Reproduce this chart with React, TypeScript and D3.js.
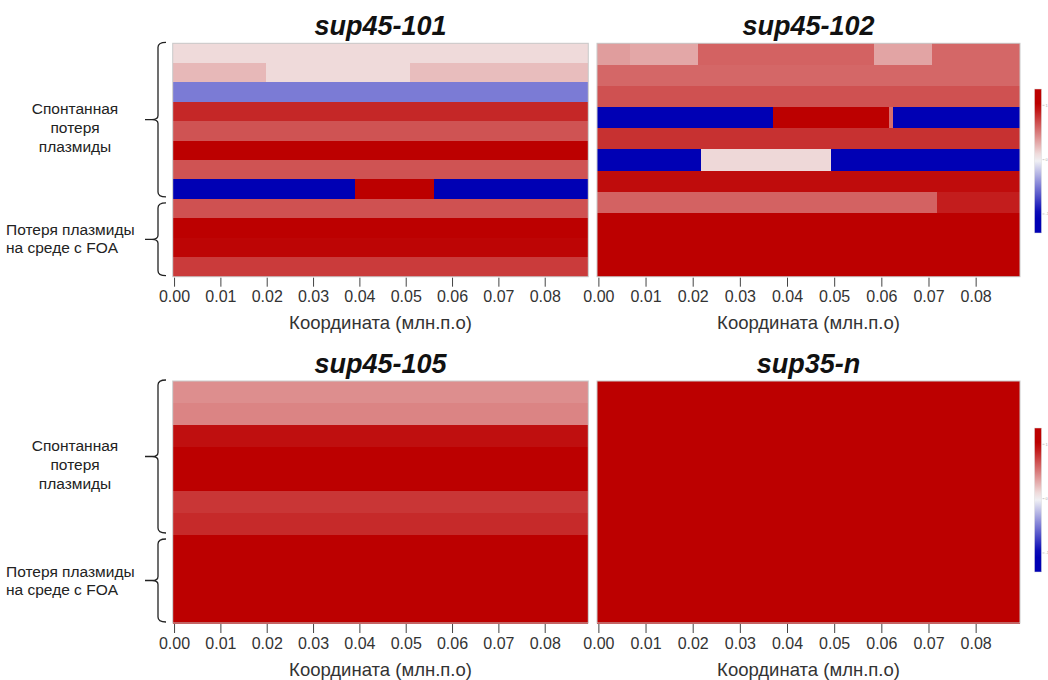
import React from "react";
import * as d3 from "d3";

// ---------- data ----------
const xTicks = [0, 0.01, 0.02, 0.03, 0.04, 0.05, 0.06, 0.07, 0.08];
const xDomain = [-0.0004, 0.0893];
const axisTitle = "Координата (млн.п.о)";
const groupLabelSpont = ["Спонтанная", "потеря", "плазмиды"];
const groupLabelFoa = ["Потеря плазмиды", "на среде с FOA"];
const legendTicks = [1, 0, -1];

// each row: b = breakpoints (genomic coord), v = values for segments
const rows101 = [
  { b: [], v: [0.11] },
  { b: [0.0197, 0.0508], v: [0.25, 0.11, 0.23] },
  { b: [], v: [-0.5] },
  { b: [], v: [0.84] },
  { b: [], v: [0.66] },
  { b: [], v: [1] },
  { b: [], v: [0.66] },
  { b: [0.0389, 0.0559], v: [-1, 1, -1] },
  { b: [], v: [0.67] },
  { b: [], v: [1] },
  { b: [], v: [0.98] },
  { b: [], v: [0.76] },
];
const rows102 = [
  { b: [0.0066, 0.021, 0.0584, 0.0706], v: [0.36, 0.32, 0.6, 0.33, 0.58] },
  { b: [], v: [0.58] },
  { b: [], v: [0.67] },
  { b: [0.037, 0.0615, 0.0624], v: [-1, 1, 0.55, -1] },
  { b: [], v: [0.8] },
  { b: [0.0217, 0.0493], v: [-1, 0.12, -1] },
  { b: [], v: [0.95] },
  { b: [0.0716], v: [0.6, 0.88] },
  { b: [], v: [1] },
  { b: [], v: [1] },
  { b: [], v: [1] },
];
const rows105 = [
  { b: [], v: [0.42] },
  { b: [], v: [0.46] },
  { b: [], v: [0.94] },
  { b: [], v: [1] },
  { b: [], v: [1] },
  { b: [], v: [0.78] },
  { b: [], v: [0.83] },
  { b: [], v: [1] },
  { b: [], v: [1] },
  { b: [], v: [1] },
  { b: [], v: [1] },
];
const rows35 = [
  { b: [], v: [1] }, { b: [], v: [1] }, { b: [], v: [1] }, { b: [], v: [1] },
  { b: [], v: [1] }, { b: [], v: [1] }, { b: [], v: [1] }, { b: [], v: [1] },
  { b: [], v: [1] }, { b: [], v: [1] }, { b: [], v: [1] },
];
const groups101 = [8, 4];
const groups105 = [7, 4];

// ---------- layout ----------
const panels = [
  { title: "sup45-101", rows: rows101, groups: groups101, x0: 172.7, x1: 588.3, y0: 43.3, y1: 276.7 },
  { title: "sup45-102", rows: rows102, groups: null, x0: 597, x1: 1020, y0: 43.3, y1: 276.7 },
  { title: "sup45-105", rows: rows105, groups: groups105, x0: 172.7, x1: 588.3, y0: 381, y1: 623 },
  { title: "sup35-n", rows: rows35, groups: null, x0: 597, x1: 1020, y0: 381, y1: 623 },
];
const legends = [
  { x: 1034.5, y0: 89, y1: 233, id: "lg1" },
  { x: 1034.5, y0: 428, y1: 572, id: "lg2" },
];

const color = d3
  .scaleLinear<string>()
  .domain([-1, 0, 1])
  .range(["#0000b4", "#f5f5f5", "#bc0000"])
  .clamp(true);

const FONT = "'Liberation Sans', Arial, Helvetica, sans-serif";

function bracePath(xv: number, top: number, bottom: number) {
  const mid = (top + bottom) / 2;
  const r = 5;
  return [
    `M${xv + 8},${top}`,
    `Q${xv},${top} ${xv},${top + r}`,
    `L${xv},${mid - 4}`,
    `Q${xv},${mid} ${xv - 6},${mid}`,
    `L${xv - 13},${mid}`,
    `M${xv - 6},${mid}`,
    `Q${xv},${mid} ${xv},${mid + 4}`,
    `L${xv},${bottom - r}`,
    `Q${xv},${bottom} ${xv + 8},${bottom}`,
  ].join(" ");
}

function Panel({ p }: { p: any }) {
  const x = d3.scaleLinear().domain(xDomain).range([p.x0, p.x1]);
  const y = d3
    .scaleBand<number>()
    .domain(d3.range(p.rows.length))
    .range([p.y0, p.y1]);
  const cx = (p.x0 + p.x1) / 2;
  const cells: any[] = [];
  p.rows.forEach((row: any, i: number) => {
    const edges = [xDomain[0], ...row.b, xDomain[1]];
    row.v.forEach((val: number, j: number) => {
      const xa = x(edges[j]);
      const xb = x(edges[j + 1]);
      cells.push(
        <rect
          key={`${i}-${j}`}
          x={xa}
          y={y(i)!}
          width={xb - xa}
          height={y.bandwidth() + 0.5}
          fill={color(val)}
          shapeRendering="crispEdges"
        />
      );
    });
  });

  const braces: any[] = [];
  if (p.groups) {
    let start = 0;
    p.groups.forEach((n: number, gi: number) => {
      const top = y(start)! + (gi === 0 ? -1 : 4);
      const bottom = y(start + n - 1)! + y.bandwidth() - (gi === 0 ? 2 : 1);
      const mid = (top + bottom) / 2;
      braces.push(
        <path key={`b${gi}`} d={bracePath(158, top, bottom)} fill="none" stroke="#222" strokeWidth={1.3} />
      );
      if (gi === 0) {
        groupLabelSpont.forEach((t, k) =>
          braces.push(
            <text key={`s${k}`} x={75} y={mid + 13 + (k - 1) * 19} textAnchor="middle" fontSize={15.5} fill="#222" fontFamily={FONT}>
              {t}
            </text>
          )
        );
      } else {
        groupLabelFoa.forEach((t, k) =>
          braces.push(
            <text key={`f${k}`} x={6} y={mid - 4 + k * 18} textAnchor="start" fontSize={15.5} fill="#222" fontFamily={FONT}>
              {t}
            </text>
          )
        );
      }
      start += n;
    });
  }

  return (
    <g>
      <text x={cx} y={p.y0 - 8} textAnchor="middle" fontSize={27} fontWeight="bold" fontStyle="italic" fill="#111" fontFamily={FONT}>
        {p.title}
      </text>
      {cells}
      <rect x={p.x0} y={p.y0} width={p.x1 - p.x0} height={p.y1 - p.y0} fill="none" stroke="#c9c9c9" strokeWidth={1} />
      {xTicks.map((t) => (
        <g key={t}>
          <line x1={x(t)} x2={x(t)} y1={p.y1 + 1} y2={p.y1 + 10} stroke="#444" strokeWidth={1} />
          <text x={x(t)} y={p.y1 + 25.5} textAnchor="middle" fontSize={16} fill="#333" fontFamily={FONT}>
            {d3.format(".2f")(t)}
          </text>
        </g>
      ))}
      <text x={cx} y={p.y1 + 52.5} textAnchor="middle" fontSize={18.5} fill="#333" fontFamily={FONT}>
        {axisTitle}
      </text>
      {braces}
    </g>
  );
}

function Legend({ l }: { l: any }) {
  const ly = d3.scaleLinear().domain([1.3, -1.35]).range([l.y0, l.y1]);
  const stops = d3.range(0, 1.0001, 0.05).map((f) => {
    const v = ly.invert(l.y0 + f * (l.y1 - l.y0));
    return { off: f, c: color(v) };
  });
  return (
    <g>
      <defs>
        <linearGradient id={l.id} x1="0" y1="0" x2="0" y2="1">
          {stops.map((s, i) => (
            <stop key={i} offset={s.off} stopColor={s.c} />
          ))}
        </linearGradient>
      </defs>
      <rect x={l.x} y={l.y0} width={7} height={l.y1 - l.y0} fill={`url(#${l.id})`} stroke="#ddd" strokeWidth={0.5} />
      {legendTicks.map((t) => (
        <g key={t}>
          <line x1={l.x + 8} x2={l.x + 10} y1={ly(t)} y2={ly(t)} stroke="#aaa" strokeWidth={0.6} />
          <text x={l.x + 11} y={ly(t) + 1.5} fontSize={4} fill="#aaa" fontFamily={FONT}>
            {t}
          </text>
        </g>
      ))}
    </g>
  );
}

export default function App() {
  return (
    <div style={{ position: "absolute", left: 0, top: 0 }}>
      <svg width={1048} height={680} style={{ display: "block", background: "#fff" }}>
        <rect width={1048} height={680} fill="#fff" />
        {panels.map((p) => (
          <Panel key={p.title} p={p} />
        ))}
        {legends.map((l) => (
          <Legend key={l.id} l={l} />
        ))}
      </svg>
    </div>
  );
}
